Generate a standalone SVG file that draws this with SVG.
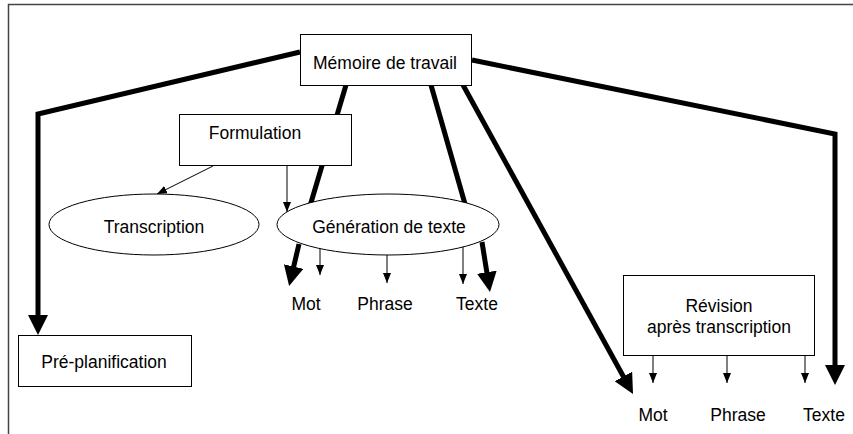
<svg xmlns="http://www.w3.org/2000/svg" width="853" height="434" viewBox="0 0 853 434">
<style>
  text { font-family: "Liberation Sans", Arial, sans-serif; font-size: 17.5px; fill: #000; text-anchor: middle; }
  .node { fill: #fff; stroke: #000; stroke-width: 1; }
  .thick { fill: none; stroke: #000; stroke-width: 5; stroke-linejoin: miter; }
  .thin { fill: none; stroke: #000; stroke-width: 1; }
  .frame { fill: none; stroke: #444; stroke-width: 1.5; }
</style>
<defs>
  <marker id="big" viewBox="0 0 10 10" refX="5" refY="5" markerWidth="4" markerHeight="4" markerUnits="strokeWidth" orient="auto">
    <path d="M0,0 L10,5 L0,10 z" fill="#000"/>
  </marker>
  <marker id="small" viewBox="0 0 10 8" refX="10" refY="4" markerWidth="10" markerHeight="8" markerUnits="strokeWidth" orient="auto">
    <path d="M0,0 L10,4 L0,8 z" fill="#000"/>
  </marker>
</defs>
<rect width="853" height="434" fill="#fff"/>
<path class="frame" d="M8.5,434 L8.5,4.5 L853,4.5"/>
<g id="connectors">
  <polyline class="thick" points="300,52 38,114 38,325" marker-end="url(#big)"/>
  <polyline class="thick" points="472,60 835,134 835,375" marker-end="url(#big)"/>
  <line class="thick" x1="346" y1="85" x2="310" y2="206"/>
  <line class="thick" x1="299" y1="244" x2="291.4" y2="276.3" marker-end="url(#big)"/>
  <line class="thick" x1="431" y1="85" x2="465" y2="204"/>
  <line class="thick" x1="482" y1="242" x2="488.4" y2="282.1" marker-end="url(#big)"/>
  <line class="thick" x1="463" y1="85" x2="628.2" y2="385.2" marker-end="url(#big)"/>
  <line class="thin" x1="213" y1="166" x2="157" y2="194" marker-end="url(#small)"/>
  <line class="thin" x1="287" y1="165" x2="287" y2="212" marker-end="url(#small)"/>
  <line class="thin" x1="320" y1="240" x2="320" y2="275" marker-end="url(#small)"/>
  <line class="thin" x1="387" y1="250" x2="387" y2="283" marker-end="url(#small)"/>
  <line class="thin" x1="463" y1="240" x2="463" y2="284" marker-end="url(#small)"/>
  <line class="thin" x1="653" y1="355" x2="653" y2="383" marker-end="url(#small)"/>
  <line class="thin" x1="727" y1="355" x2="727" y2="383" marker-end="url(#small)"/>
  <line class="thin" x1="805" y1="355" x2="805" y2="383" marker-end="url(#small)"/>
</g>
<g id="memoire">
  <rect class="node" x="300.5" y="34.5" width="171" height="51"/>
  <text x="385" y="69">Mémoire de travail</text>
</g>
<g id="formulation">
  <rect class="node" x="179.5" y="114.5" width="172" height="51"/>
  <text x="255" y="139">Formulation</text>
</g>
<g id="transcription">
  <ellipse class="node" cx="154" cy="224.5" rx="105" ry="30.5"/>
  <text x="154" y="233">Transcription</text>
</g>
<g id="generation">
  <ellipse class="node" cx="388" cy="224.5" rx="111" ry="30.5"/>
  <text x="389" y="233">Génération de texte</text>
</g>
<g id="preplanification">
  <rect class="node" x="18.5" y="335.5" width="173" height="51"/>
  <text x="104" y="368">Pré-planification</text>
</g>
<g id="revision">
  <rect class="node" x="623.5" y="275.5" width="191" height="80"/>
  <text x="719" y="312">Révision</text>
  <text x="719" y="333">après transcription</text>
</g>
<g id="gen-mot"><text x="306" y="310">Mot</text></g>
<g id="gen-phrase"><text x="385" y="310">Phrase</text></g>
<g id="gen-texte"><text x="477" y="310">Texte</text></g>
<g id="rev-mot"><text x="653" y="421">Mot</text></g>
<g id="rev-phrase"><text x="738" y="421">Phrase</text></g>
<g id="rev-texte"><text x="824" y="421">Texte</text></g>
</svg>
